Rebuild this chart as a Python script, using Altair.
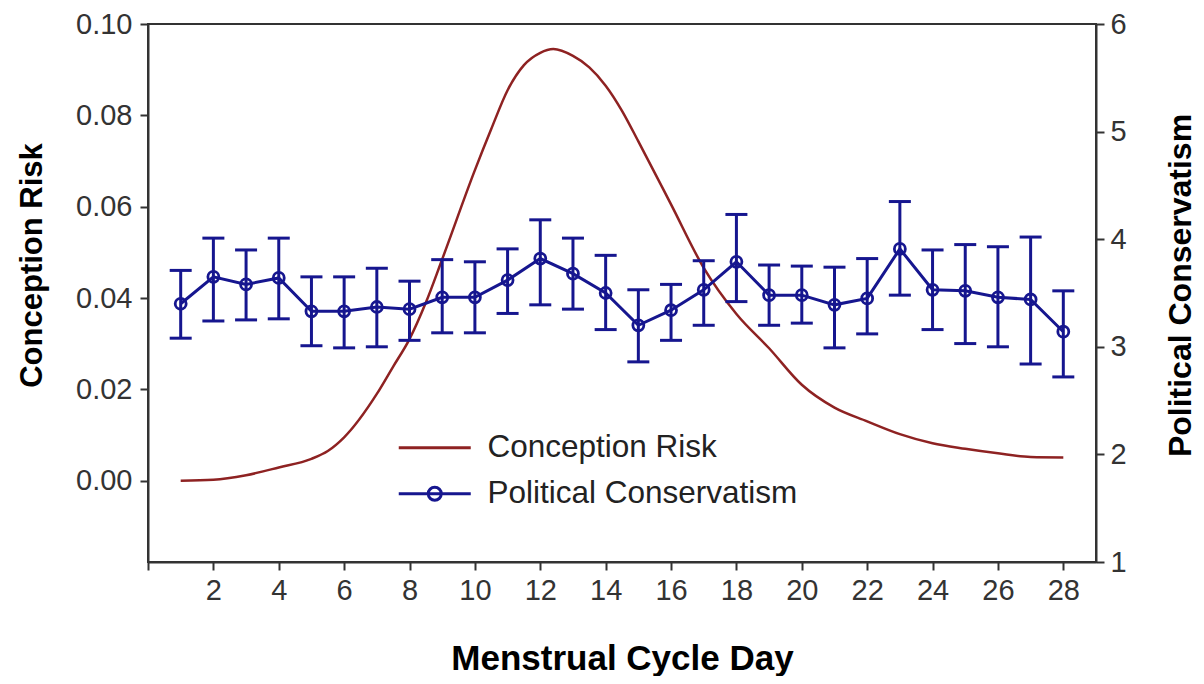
import altair as alt
import pandas as pd

# Political conservatism (right axis): mean and error-bar ends per day
days = list(range(1, 29))
pc_mean = [3.40, 3.65, 3.58, 3.64, 3.33, 3.33, 3.37, 3.35, 3.46, 3.46, 3.62, 3.82, 3.68, 3.50,
           3.20, 3.34, 3.53, 3.79, 3.48, 3.48, 3.39, 3.45, 3.91, 3.53, 3.52, 3.46, 3.44, 3.14]
pc_hi = [3.71, 4.01, 3.90, 4.01, 3.65, 3.65, 3.73, 3.61, 3.81, 3.79, 3.91, 4.18, 4.01, 3.85,
         3.53, 3.58, 3.80, 4.23, 3.76, 3.75, 3.74, 3.82, 4.35, 3.90, 3.95, 3.93, 4.02, 3.52]
pc_lo = [3.08, 3.24, 3.25, 3.26, 3.01, 2.99, 3.00, 3.06, 3.13, 3.13, 3.31, 3.39, 3.35, 3.16,
         2.86, 3.06, 3.20, 3.42, 3.20, 3.22, 2.99, 3.12, 3.48, 3.16, 3.03, 3.00, 2.84, 2.72]

# Conception risk curve (left axis)
cr_day = [1, 2, 3, 4, 5, 5.5, 6, 7, 7.5, 8, 8.5, 9, 10, 10.5, 11, 11.5, 12, 12.4, 13, 13.5,
          14, 14.5, 15, 16, 17, 18, 19, 20, 21, 22, 23, 24, 25, 26, 27, 28]
cr_val = [0.0, 0.0002, 0.0012, 0.0029, 0.0048, 0.0065, 0.0095, 0.019, 0.025, 0.031, 0.039,
          0.0485, 0.068, 0.077, 0.0855, 0.091, 0.0937, 0.0945, 0.093, 0.0905, 0.0865, 0.081,
          0.0743, 0.0605, 0.0466, 0.0365, 0.029, 0.021, 0.016, 0.013, 0.0102, 0.0082, 0.007,
          0.006, 0.0052, 0.0051]

series_names = ["Conception Risk", "Political Conservatism"]
x_ticks = list(range(0, 29, 2))
left_ticks = [0.0, 0.02, 0.04, 0.06, 0.08, 0.10]
right_ticks = [1, 2, 3, 4, 5, 6]

RED = "#8e2222"
BLUE = "#16168f"
FONT = "Liberation Sans"

pc = pd.DataFrame({"day": days, "mean": pc_mean, "hi": pc_hi, "lo": pc_lo,
                   "series": series_names[1]})
cr = pd.DataFrame({"day": cr_day, "risk": cr_val, "series": series_names[0]})

x_scale = alt.Scale(domain=[0, 29], nice=False, zero=False)
x_axis = alt.Axis(values=x_ticks, labelExpr="datum.value == 0 ? '' : datum.label",
                  title="Menstrual Cycle Day", labelPadding=6, titlePadding=36,
                  titleFontSize=35)

def X():
    return alt.X("day:Q", scale=x_scale, axis=x_axis)

line_path = "M-3.6,0L3.6,0"
circ_path = "M-3.6,0L3.6,0M-0.65,0A0.65,0.65,0,1,1,0.65,0A0.65,0.65,0,1,1,-0.65,0"

color = alt.Color(
    "series:N",
    scale=alt.Scale(domain=series_names, range=[RED, BLUE]),
    legend=alt.Legend(
        orient="none", legendX=271, legendY=408, title=None,
        labelFontSize=31.5, labelFont=FONT, labelColor="#222222", labelLimit=0,
        symbolSize=400, symbolStrokeWidth=3, symbolFillColor="transparent",
        symbolType=alt.ExprRef(expr="datum.value === 'Political Conservatism' ? '" + circ_path + "' : '" + line_path + "'"),
        labelOffset=37, rowPadding=13, padding=0,
    ),
)

left_scale = alt.Scale(domain=[-0.0178, 0.1], nice=False, zero=False)
left_axis = alt.Axis(values=left_ticks, format=".2f", title="Conception Risk",
                     orient="left", labelPadding=8, titleX=-100, titleY=241,
                     titleFontSize=31)

right_scale = alt.Scale(domain=[1, 6], nice=False, zero=False)
right_axis = alt.Axis(values=right_ticks, format="d", title="Political Conservatism",
                      orient="right", titleAngle=270, titleBaseline="top",
                      labelPadding=6, titleX=69, titleY=261, titleFontSize=32)

risk = alt.Chart(cr).mark_line(strokeWidth=2.5, interpolate="monotone").encode(
    x=X(),
    y=alt.Y("risk:Q", scale=left_scale, axis=left_axis),
    color=color,
)

base = alt.Chart(pc)
bars = base.mark_rule(color=BLUE, strokeWidth=3, opacity=1).encode(
    x=X(), y=alt.Y("lo:Q", scale=right_scale, axis=right_axis), y2="hi:Q")
cap_hi = base.mark_tick(color=BLUE, orient="horizontal", size=22, thickness=3, opacity=1).encode(
    x=X(), y=alt.Y("hi:Q", scale=right_scale, axis=right_axis))
cap_lo = base.mark_tick(color=BLUE, orient="horizontal", size=22, thickness=3, opacity=1).encode(
    x=X(), y=alt.Y("lo:Q", scale=right_scale, axis=right_axis))
pline = base.mark_line(strokeWidth=3).encode(
    x=X(), y=alt.Y("mean:Q", scale=right_scale, axis=right_axis), color=color)
pts = base.mark_point(shape="circle", filled=False, size=120, strokeWidth=2.8,
                      color=BLUE, opacity=1).encode(
    x=X(), y=alt.Y("mean:Q", scale=right_scale, axis=right_axis))

right_layer = alt.layer(bars, cap_hi, cap_lo, pline, pts)

chart = alt.layer(risk, right_layer).resolve_scale(y="independent").properties(
    width=948, height=538,
    autosize=alt.AutoSizeParams(type="none"),
    padding={"left": 140, "top": 16, "right": 100, "bottom": 114},
    background="white",
).configure_view(
    stroke="#333333", strokeWidth=2
).configure_axis(
    grid=False, domainColor="#333333", domainWidth=2, tickColor="#333333",
    tickWidth=2, tickSize=8, labelFont=FONT, labelFontSize=29, labelColor="#333333",
    titleFont=FONT, titleFontSize=32, titleFontWeight="bold", titleColor="#000000",
)

chart.save("out.html", embed_options={"renderer": "svg", "actions": False})
